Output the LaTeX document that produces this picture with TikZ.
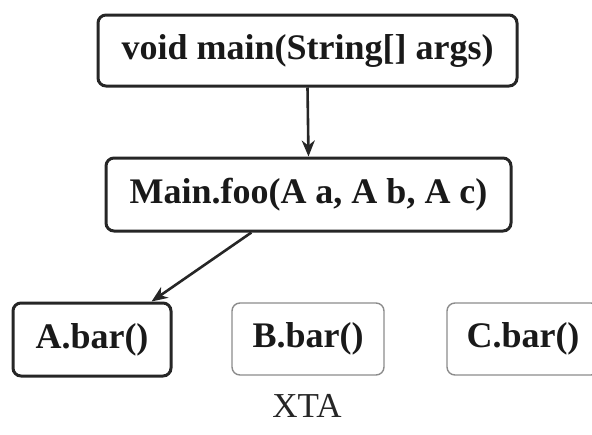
\documentclass[tikz,border=0pt]{standalone}
\usepackage{fontspec}
\setmainfont{Liberation Serif}
\usetikzlibrary{arrows.meta,calc}

\tikzset{
  call/.style={draw=black!85, line width=3pt, rounded corners=8pt, inner sep=0pt,
    font=\fontsize{36}{40}\selectfont\bfseries, text=black!90},
  idle/.style={call, draw=black!45, line width=1.4pt},
  edge/.style={draw=black!85, line width=2.6pt, -{Stealth[length=16pt,width=13pt,inset=5pt]}},
  caption/.style={font=\fontsize{35}{38}\selectfont, text=black!85}
}

\begin{document}
\begin{tikzpicture}[x=1pt,y=-1pt]
  \useasboundingbox (0,0) rectangle (592,434);
  \clip (0,0) rectangle (592,434);

  % call chain
  \node[call, minimum width=419pt, minimum height=71pt] (main) at (307.5,50.5) {void main(String[] args)};
  \node[call, minimum width=405pt, minimum height=73pt] (foo) at (308.5,194.5) {Main.foo(A a, A b, A c)};

  % candidate targets
  \node[call, minimum width=158pt, minimum height=73pt] (abar) at (92,339.5) {A.bar()};
  \node[idle, minimum width=152pt, minimum height=72pt] (bbar) at (308,339) {B.bar()};
  \node[idle, minimum width=152pt, minimum height=72pt] (cbar) at (523,339) {C.bar()};

  \node[caption] (xta) at (307,406) {XTA};

  % resolved call edges
  \draw[edge] (main.south) -- (foo.north);
  \draw[edge] ($(foo.south west)!0.36!(foo.south east)$) -- ($(abar.north west)!0.87!(abar.north east)$);
\end{tikzpicture}
\end{document}
